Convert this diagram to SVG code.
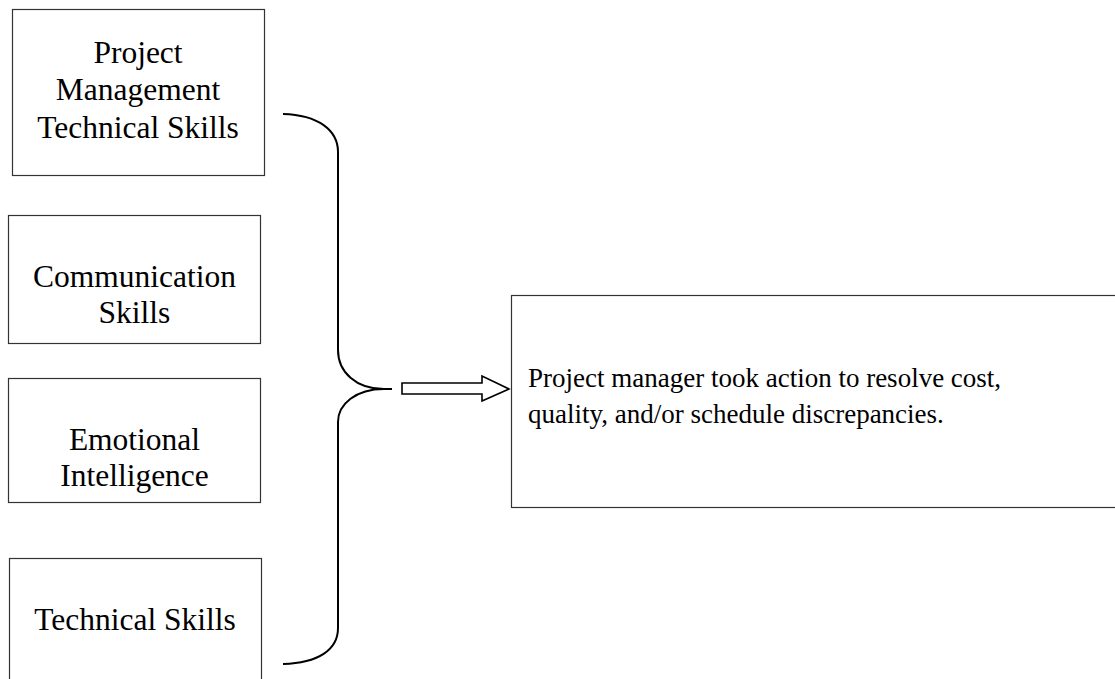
<svg xmlns="http://www.w3.org/2000/svg" width="1115" height="679" viewBox="0 0 1115 679">
<style>
.box{fill:#fff;stroke:#333;stroke-width:1.2}
.t{font-family:"Liberation Serif","Times New Roman",serif;font-size:31.5px;fill:#000;text-anchor:middle}
.tr{font-family:"Liberation Serif","Times New Roman",serif;font-size:27px;fill:#000}
.brace{fill:none;stroke:#000;stroke-width:2}
.arrow{fill:#fff;stroke:#000;stroke-width:1.6;stroke-linejoin:miter}
</style>
<rect width="1115" height="679" fill="#fff"/>
<g id="node-pm-tech">
<rect class="box" x="12.5" y="9.5" width="252" height="166"/>
<text class="t" x="138" y="63">Project</text>
<text class="t" x="138" y="100">Management</text>
<text class="t" x="138" y="138">Technical Skills</text>
</g>
<g id="node-communication">
<rect class="box" x="8.5" y="215.5" width="252" height="128"/>
<text class="t" x="134.5" y="287">Communication</text>
<text class="t" x="134.5" y="323">Skills</text>
</g>
<g id="node-emotional">
<rect class="box" x="8.5" y="378.5" width="252" height="124"/>
<text class="t" x="134.5" y="450">Emotional</text>
<text class="t" x="134.5" y="486">Intelligence</text>
</g>
<g id="node-technical">
<rect class="box" x="9.5" y="558.5" width="252" height="140"/>
<text class="t" x="135" y="630">Technical Skills</text>
</g>
<g id="node-outcome">
<rect class="box" x="511.5" y="295.5" width="620" height="212"/>
<text class="tr" x="528" y="387">Project manager took action to resolve cost,</text>
<text class="tr" x="528" y="423">quality, and/or schedule discrepancies.</text>
</g>
<g id="connectors">
<path class="brace" d="M283,114 C318,115 338,130 338,152 L338,350 C338,372 356,389 384,389 L392,389 M384,389 C356,389 338,404 338,422 L338,628 C338,650 318,663 283,664"/>
<polygon class="arrow" points="402,383 482,383 482,376 509,389 482,401 482,394 402,394"/>
</g>
</svg>
